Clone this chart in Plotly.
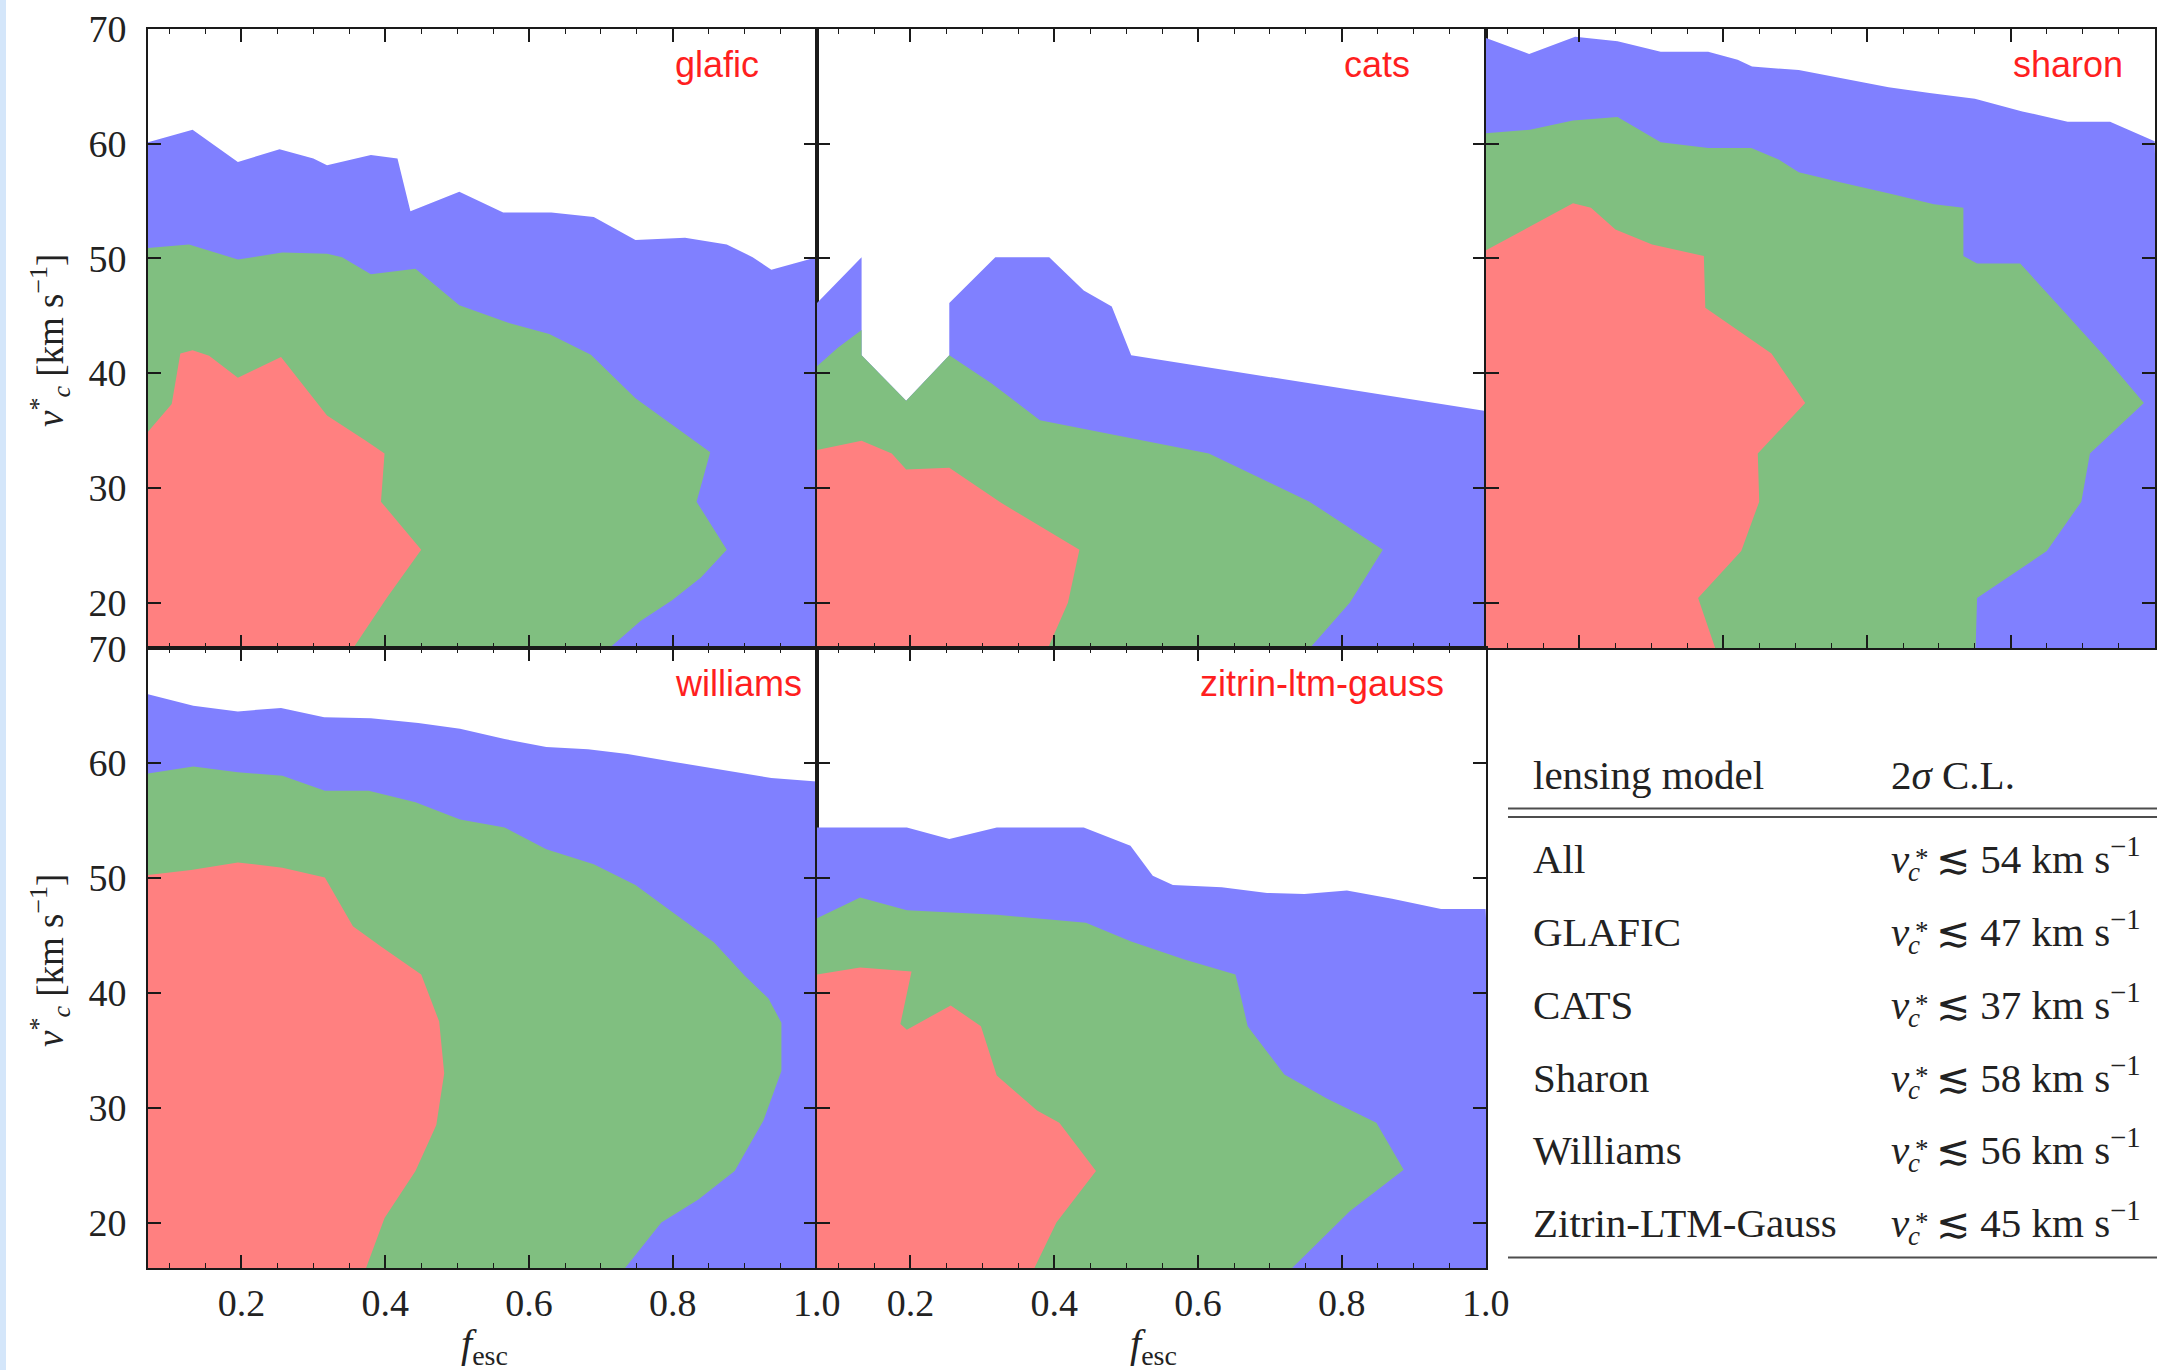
import plotly.graph_objects as go

W, H = 2157, 1370

# axis ranges shared by all panels
X_RANGE = [0.07, 1.0005]
Y_RANGE = [16.05, 70.02]

BLUE = "#8080ff"    # 3 sigma
GREEN = "#80bf80"   # 2 sigma
RED = "#ff8080"     # 1 sigma

# ---------------- confidence-region boundaries (f_esc, v_c*) ----------------
# glafic
glafic_3s_x = [0.07, 0.132, 0.195, 0.253, 0.300, 0.319, 0.380, 0.417, 0.435, 0.503, 0.564, 0.631, 0.690, 0.748, 0.817, 0.875, 0.911, 0.937, 1.0]
glafic_3s_y = [60.1, 61.2, 58.4, 59.5, 58.7, 58.1, 59.0, 58.7, 54.1, 55.8, 54.0, 54.0, 53.6, 51.6, 51.8, 51.2, 50.1, 49.0, 50.1]
glafic_2s_x = [0.07, 0.127, 0.195, 0.257, 0.319, 0.340, 0.380, 0.442, 0.503, 0.570, 0.628, 0.686, 0.748, 0.806, 0.852, 0.833, 0.875, 0.839, 0.799, 0.755, 0.711]
glafic_2s_y = [50.9, 51.2, 49.9, 50.5, 50.4, 50.1, 48.6, 49.1, 45.9, 44.4, 43.4, 41.6, 37.8, 35.2, 33.1, 28.8, 24.6, 22.2, 20.2, 18.4, 16.0]
glafic_1s_x = [0.07, 0.103, 0.115, 0.132, 0.155, 0.195, 0.255, 0.308, 0.319, 0.373, 0.399, 0.394, 0.450, 0.402, 0.355]
glafic_1s_y = [34.9, 37.3, 41.7, 42.0, 41.5, 39.6, 41.4, 37.1, 36.3, 34.1, 33.0, 28.8, 24.6, 20.4, 16.0]

# cats
cats_3s_x = [0.07, 0.132, 0.132, 0.194, 0.254, 0.254, 0.318, 0.393, 0.441, 0.480, 0.507, 1.0]
cats_3s_y = [46.1, 50.1, 41.55, 37.6, 41.55, 46.1, 50.1, 50.1, 47.2, 45.8, 41.55, 36.7]
cats_2s_x = [0.07, 0.099, 0.132, 0.132, 0.194, 0.254, 0.313, 0.380, 0.509, 0.615, 0.755, 0.857, 0.811, 0.755]
cats_2s_y = [40.6, 42.2, 43.75, 41.55, 37.6, 41.55, 39.1, 35.9, 34.3, 33.0, 28.8, 24.6, 20.0, 16.0]
cats_1s_x = [0.07, 0.132, 0.174, 0.194, 0.254, 0.326, 0.435, 0.419, 0.391]
cats_1s_y = [33.3, 34.1, 33.0, 31.6, 31.75, 28.7, 24.6, 20.0, 16.0]

# sharon
sharon_3s_x = [0.07, 0.130, 0.194, 0.253, 0.313, 0.379, 0.420, 0.440, 0.505, 0.564, 0.630, 0.687, 0.750, 0.816, 0.879, 0.938, 1.0]
sharon_3s_y = [69.2, 67.8, 69.3, 68.9, 68.0, 68.0, 67.3, 66.7, 66.4, 65.7, 64.9, 64.4, 63.9, 62.8, 61.9, 61.9, 60.2]
sharon_2s_x = [0.07, 0.131, 0.191, 0.253, 0.313, 0.379, 0.439, 0.477, 0.505, 0.564, 0.634, 0.693, 0.734, 0.734, 0.753, 0.813, 0.872, 0.929, 0.985, 0.910, 0.898, 0.850, 0.753, 0.751]
sharon_2s_y = [60.9, 61.2, 62.0, 62.3, 60.1, 59.6, 59.6, 58.6, 57.5, 56.6, 55.6, 54.7, 54.4, 50.2, 49.55, 49.55, 45.5, 41.55, 37.4, 33.0, 28.8, 24.5, 20.4, 16.0]
sharon_1s_x = [0.07, 0.128, 0.191, 0.216, 0.250, 0.301, 0.373, 0.375, 0.467, 0.514, 0.448, 0.450, 0.425, 0.365, 0.389]
sharon_1s_y = [50.7, 52.7, 54.8, 54.4, 52.5, 51.2, 50.2, 45.7, 41.7, 37.4, 33.0, 28.8, 24.5, 20.4, 16.0]

# williams
williams_3s_x = [0.07, 0.133, 0.195, 0.255, 0.315, 0.380, 0.446, 0.504, 0.566, 0.624, 0.682, 0.737, 0.802, 0.868, 0.937, 1.0]
williams_3s_y = [66.0, 65.0, 64.5, 64.8, 64.0, 63.9, 63.5, 63.0, 62.1, 61.4, 61.2, 60.8, 60.1, 59.4, 58.7, 58.4]
williams_2s_x = [0.07, 0.133, 0.195, 0.257, 0.316, 0.377, 0.442, 0.504, 0.566, 0.624, 0.690, 0.748, 0.802, 0.857, 0.900, 0.933, 0.951, 0.951, 0.926, 0.886, 0.835, 0.784, 0.733]
williams_2s_y = [59.1, 59.7, 59.2, 58.9, 57.6, 57.6, 56.6, 55.1, 54.4, 52.5, 51.2, 49.4, 46.9, 44.4, 41.5, 39.5, 37.4, 33.2, 28.9, 24.5, 22.0, 20.0, 16.0]
williams_1s_x = [0.07, 0.130, 0.195, 0.257, 0.316, 0.355, 0.395, 0.450, 0.475, 0.482, 0.471, 0.442, 0.399, 0.373]
williams_1s_y = [50.25, 50.7, 51.35, 50.9, 50.05, 45.8, 44.0, 41.6, 37.5, 33.0, 28.5, 24.5, 20.4, 16.0]

# zitrin-ltm-gauss
zitrin_3s_x = [0.07, 0.195, 0.254, 0.320, 0.441, 0.506, 0.537, 0.565, 0.633, 0.696, 0.748, 0.807, 0.870, 0.938, 1.0]
zitrin_3s_y = [54.4, 54.4, 53.4, 54.4, 54.4, 52.8, 50.2, 49.4, 49.2, 48.7, 48.6, 48.9, 48.2, 47.3, 47.3]
zitrin_2s_x = [0.07, 0.130, 0.195, 0.320, 0.444, 0.506, 0.581, 0.652, 0.658, 0.669, 0.720, 0.779, 0.848, 0.886, 0.811, 0.730]
zitrin_2s_y = [46.5, 48.3, 47.2, 46.8, 46.1, 44.5, 42.9, 41.6, 40.1, 37.1, 32.9, 30.8, 28.7, 24.6, 21.0, 16.0]
zitrin_1s_x = [0.07, 0.130, 0.2015, 0.186, 0.195, 0.256, 0.298, 0.320, 0.376, 0.407, 0.458, 0.403, 0.372]
zitrin_1s_y = [41.6, 42.2, 41.85, 37.3, 36.8, 38.9, 37.1, 32.8, 29.75, 28.7, 24.5, 20.0, 16.0]

# summary table
table_models = ["All", "GLAFIC", "CATS", "Sharon", "Williams", "Zitrin-LTM-Gauss"]
table_limits = [54, 47, 37, 58, 56, 45]

x_tick_vals = [0.2, 0.4, 0.6, 0.8, 1.0]
y_tick_vals = [20, 30, 40, 50, 60, 70]

# ---------------- layout geometry (pixels) ----------------
COLS = [(148, 817), (817, 1486), (1486, 2155)]
ROWS = [(28.5, 648), (648, 1268)]

panels = [
    ("glafic", 0, 0, 0.8, (glafic_3s_x, glafic_3s_y), (glafic_2s_x, glafic_2s_y), (glafic_1s_x, glafic_1s_y)),
    ("cats", 1, 0, 0.8, (cats_3s_x, cats_3s_y), (cats_2s_x, cats_2s_y), (cats_1s_x, cats_1s_y)),
    ("sharon", 2, 0, 0.8, (sharon_3s_x, sharon_3s_y), (sharon_2s_x, sharon_2s_y), (sharon_1s_x, sharon_1s_y)),
    ("williams", 0, 1, 0.8, (williams_3s_x, williams_3s_y), (williams_2s_x, williams_2s_y), (williams_1s_x, williams_1s_y)),
    ("zitrin-ltm-gauss", 1, 1, 0.6, (zitrin_3s_x, zitrin_3s_y), (zitrin_2s_x, zitrin_2s_y), (zitrin_1s_x, zitrin_1s_y)),
]


def px(x):
    return x / W


def py(y):
    return 1 - y / H


# corners used to close the filled regions just outside the visible frame
X_LO, X_HI, Y_LO = 0.05, 1.02, 15.0

SERIF = "Liberation Serif"
SANS = "Liberation Sans"
INK = "#222222"

fig = go.Figure()
layout = dict(
    width=W, height=H,
    margin=dict(l=0, r=0, t=0, b=0, autoexpand=False),
    paper_bgcolor="white", plot_bgcolor="white",
    showlegend=False,
    annotations=[], shapes=[],
)

for i, (name, col, row, lab_x, s3, s2, s1) in enumerate(panels, start=1):
    xa, ya = f"x{i}", f"y{i}"
    # 3 sigma region: under the upper curve, across the full width
    fig.add_trace(go.Scatter(
        x=list(s3[0]) + [X_HI, X_LO], y=list(s3[1]) + [Y_LO, Y_LO],
        fill="toself", fillcolor=BLUE, mode="lines", line=dict(width=0),
        hoverinfo="skip", xaxis=xa, yaxis=ya))
    for (bx, by), colr in ((s2, GREEN), (s1, RED)):
        fig.add_trace(go.Scatter(
            x=list(bx) + [X_LO], y=list(by) + [Y_LO],
            fill="toself", fillcolor=colr, mode="lines", line=dict(width=0),
            hoverinfo="skip", xaxis=xa, yaxis=ya))

    c0, c1 = COLS[col]
    r0, r1 = ROWS[row]
    axis_common = dict(
        automargin=False,
        showgrid=False, zeroline=False, showline=True, mirror="allticks",
        linecolor="#1a1a1a", linewidth=2,
        ticks="inside", ticklen=13, tickwidth=1.6, tickcolor="#1a1a1a",
        tickfont=dict(family=SERIF, size=38, color=INK),
    )
    layout[f"xaxis{i}"] = dict(
        axis_common, domain=[px(c0), px(c1)], anchor=ya, range=X_RANGE,
        tickmode="array", tickvals=x_tick_vals,
        ticktext=[f"{v:.1f}" for v in x_tick_vals],
        showticklabels=(row == 1), ticklabelstandoff=0,
        minor=dict(ticks="inside", dtick=0.05, tick0=0, ticklen=5,
                   tickwidth=1.3, tickcolor="#1a1a1a", showgrid=False),
    )
    layout[f"yaxis{i}"] = dict(
        axis_common, domain=[py(r1), py(r0)], anchor=xa, range=Y_RANGE,
        tickmode="array", tickvals=y_tick_vals,
        ticktext=[str(v) for v in y_tick_vals],
        showticklabels=(col == 0), ticklabelstandoff=12,
    )
    layout["annotations"].append(dict(
        xref=xa, yref=ya, x=lab_x, y=66.9, text=name, showarrow=False,
        xanchor="left", yanchor="middle",
        font=dict(family=SANS, size=36, color="#ff1f1f")))

# axis titles
for yc in (341, 961):
    layout["annotations"].append(dict(
        xref="paper", yref="paper", x=px(50), y=py(yc), textangle=-90,
        text="<i>v</i><sup>*</sup><sub><i>c</i></sub> [km s<sup>\u22121</sup>]",
        showarrow=False, xanchor="center", yanchor="middle",
        font=dict(family=SERIF, size=37, color=INK)))
for xc in (484, 1153):
    layout["annotations"].append(dict(
        xref="paper", yref="paper", x=px(xc), y=py(1346),
        text="<i>f</i><sub>esc</sub>", showarrow=False,
        xanchor="center", yanchor="middle",
        font=dict(family=SERIF, size=40, color=INK)))

# ---------------- summary table ----------------
TFS = 41
COL1_X, COL2_X = 1531, 1889
HEAD_BASE = 789
ROW_BASE0, ROW_STEP = 873, 72.8


def table_text(x, base, text, size=TFS, dy=0.0):
    layout["annotations"].append(dict(
        xref="paper", yref="paper", x=px(x), y=py(base - 0.335 * size + dy),
        text=text, showarrow=False, xanchor="left", yanchor="middle",
        font=dict(family=SERIF, size=size, color=INK)))


table_text(COL1_X, HEAD_BASE, "lensing model")
table_text(COL2_X, HEAD_BASE, "2<i>\u03c3</i> C.L.")
for k, (model, lim) in enumerate(zip(table_models, table_limits)):
    base = ROW_BASE0 + k * ROW_STEP
    table_text(COL1_X, base, model)
    table_text(COL2_X, base, "<i>v</i>")
    table_text(COL2_X + 24, base - 6, "*", size=27)
    table_text(COL2_X + 17, base + 8, "<i>c</i>", size=27)
    table_text(COL2_X + 45, base - 3,
               f"\u2272 {lim} km s<sup>\u22121</sup>")

line_style = dict(color="#4d4d4d", width=2)
for yline in (808.5, 817.0, 1257.5):
    layout["shapes"].append(dict(
        type="line", xref="paper", yref="paper",
        x0=px(1508), x1=1.0, y0=py(yline), y1=py(yline), line=line_style))

# thin light-blue strip along the left edge
layout["shapes"].append(dict(
    type="rect", xref="paper", yref="paper", x0=0, x1=px(6), y0=0, y1=1,
    fillcolor="#d4e6fa", line=dict(width=0), layer="below"))

fig.update_layout(**layout)
fig.write_html("out.html")
